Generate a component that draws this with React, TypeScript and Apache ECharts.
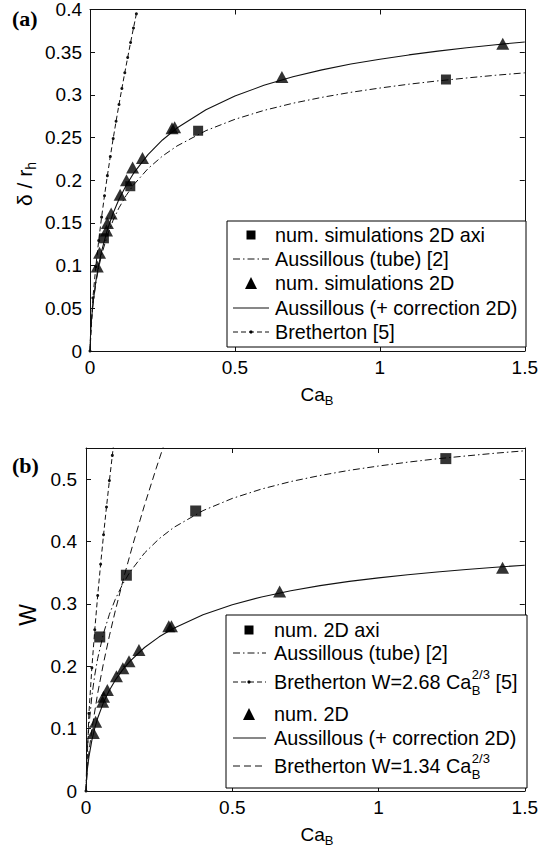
import React, { useEffect, useRef } from "react";
import * as echarts from "echarts";

// ---------- data ----------
// panel (a): delta / r_h versus Ca_B
const axiCaA = [0.048, 0.139, 0.373, 1.228];
const axiDeltaA = [0.132, 0.193, 0.258, 0.318];

const num2DCa = [0.025, 0.033, 0.057, 0.06, 0.073, 0.104, 0.126, 0.147, 0.181, 0.283, 0.292, 0.662, 1.424];
const num2DDeltaA = [0.099, 0.115, 0.141, 0.15, 0.161, 0.183, 0.2, 0.215, 0.226, 0.261, 0.262, 0.321, 0.36];

const curveCa = [0, 0.002, 0.005, 0.01, 0.02, 0.03, 0.04, 0.06, 0.08, 0.1, 0.125, 0.15, 0.2, 0.25, 0.3, 0.4, 0.5, 0.6, 0.7, 0.8, 0.9, 1.0, 1.1, 1.2, 1.3, 1.4, 1.5];
const tubeDelta = [0, 0.0202, 0.0357, 0.0538, 0.0792, 0.0977, 0.1126, 0.1357, 0.1534, 0.1677, 0.1823, 0.1944, 0.2136, 0.2283, 0.2401, 0.2581, 0.2714, 0.2818, 0.2902, 0.2971, 0.303, 0.308, 0.3125, 0.3164, 0.3198, 0.323, 0.3258];
const corr2DDelta = [0, 0.0203, 0.036, 0.0548, 0.0813, 0.101, 0.1171, 0.1422, 0.1617, 0.1777, 0.1942, 0.208, 0.2301, 0.2472, 0.2611, 0.2826, 0.2986, 0.3112, 0.3212, 0.3293, 0.3361, 0.3418, 0.3468, 0.3512, 0.3552, 0.3588, 0.362];

const brethCaA = [0, 0.01, 0.02, 0.03, 0.04, 0.05, 0.06, 0.07, 0.08, 0.09, 0.1, 0.11, 0.12, 0.13, 0.14, 0.15, 0.16];
const brethDeltaA = [0, 0.0622, 0.0987, 0.1293, 0.1568, 0.1819, 0.2054, 0.2277, 0.2488, 0.2691, 0.2887, 0.3075, 0.326, 0.3438, 0.3613, 0.3783, 0.3949];

// panel (b): W versus Ca_B
const axiCaB = [0.047, 0.138, 0.375, 1.23];
const axiWB = [0.247, 0.346, 0.449, 0.533];

const num2DWB = [0.093, 0.111, 0.143, 0.151, 0.162, 0.184, 0.197, 0.208, 0.226, 0.264, 0.264, 0.32, 0.358];

const tubeW = [0, 0.04, 0.0701, 0.1047, 0.1521, 0.1859, 0.2125, 0.253, 0.2833, 0.3073, 0.3314, 0.351, 0.3816, 0.4045, 0.4226, 0.4496, 0.4691, 0.4842, 0.4962, 0.5059, 0.5142, 0.5211, 0.5273, 0.5327, 0.5373, 0.5417, 0.5455];
const corr2DW = [0, 0.0203, 0.036, 0.0548, 0.0813, 0.101, 0.1171, 0.1422, 0.1617, 0.1777, 0.1942, 0.208, 0.2301, 0.2472, 0.2611, 0.2826, 0.2986, 0.3112, 0.3212, 0.3293, 0.3361, 0.3418, 0.3468, 0.3512, 0.3552, 0.3588, 0.362];

const breth268Ca = [0, 0.01, 0.02, 0.03, 0.04, 0.05, 0.06, 0.07, 0.08, 0.09, 0.095];
const breth268W = [0, 0.1244, 0.1975, 0.2586, 0.3136, 0.3637, 0.4108, 0.4553, 0.4977, 0.5381, 0.5583];

const breth134Ca = [0, 0.005, 0.01, 0.02, 0.04, 0.06, 0.08, 0.1, 0.13, 0.16, 0.2, 0.24, 0.27];
const breth134W = [0, 0.0391, 0.0622, 0.0987, 0.1568, 0.2054, 0.2488, 0.2887, 0.3438, 0.3949, 0.4583, 0.5175, 0.5599];

// legend labels
const legendA = ["num. simulations 2D axi", "Aussillous (tube) [2]", "num. simulations 2D", "Aussillous (+ correction 2D)", "Bretherton [5]"];
const legendB = ["num. 2D axi", "Aussillous (tube) [2]", "Bretherton W=2.68 Ca", "num. 2D", "Aussillous (+ correction 2D)", "Bretherton W=1.34 Ca"];

const FONT = '"Liberation Sans", Arial, Helvetica, sans-serif';
const SERIF = '"Liberation Serif", "Times New Roman", serif';
const INK = "#111";

function pairs(xs: number[], ys: number[]) {
  return xs.map((x, i) => [x, ys[i]]);
}

export default function App() {
  const ref = useRef<HTMLDivElement>(null);
  useEffect(() => {
    document.body.style.margin = "0";
    const chart = echarts.init(ref.current as HTMLDivElement, undefined, { renderer: "svg" });
    const ctx = document.createElement("canvas").getContext("2d") as CanvasRenderingContext2D;
    const tw = (s: string, size: number) => {
      ctx.font = `${size}px ${FONT}`;
      return ctx.measureText(s).width;
    };

    const LF = 19.8;
    const SF = 13;
    const txt = (x: number, y: number, s: string, size = LF, extra: any = {}) => ({
      type: "text",
      x,
      y,
      z: 60,
      style: {
        text: s,
        fontSize: size,
        fontFamily: FONT,
        fill: "#000",
        textAlign: "left",
        verticalAlign: "middle",
        textVerticalAlign: "middle",
        ...extra,
      },
    });
    const hline = (x1: number, x2: number, y: number, dash: any) => ({
      type: "line",
      z: 60,
      shape: { x1, y1: y, x2, y2: y },
      style: { stroke: INK, lineWidth: 1, lineDash: dash },
    });
    const sq = (cx: number, cy: number, s = 9) => ({
      type: "rect",
      z: 60,
      shape: { x: cx - s / 2, y: cy - s / 2, width: s, height: s },
      style: { fill: "#000" },
    });
    const tri = (cx: number, cy: number, s = 12) => ({
      type: "polygon",
      z: 60,
      shape: { points: [[cx, cy - s / 2], [cx + s / 2, cy + s / 2], [cx - s / 2, cy + s / 2]] },
      style: { fill: "#000" },
    });
    const dot = (cx: number, cy: number) => ({
      type: "circle",
      z: 61,
      shape: { cx, cy, r: 1.6 },
      style: { fill: "#000" },
    });
    const DASHDOT = [7, 3, 1.5, 3];
    const DASH = [5, 3];
    const DASH2 = [7, 4];

    // ---- legend (a)
    const gA: any[] = [];
    gA.push({ type: "rect", z: 59, shape: { x: 227, y: 221, width: 299, height: 126 }, style: { fill: "#fff", stroke: "#000", lineWidth: 1 } });
    const rowsA = [235, 259, 283, 308, 332];
    const tA = 275;
    gA.push(sq(251, rowsA[0]));
    gA.push(hline(233, 269, rowsA[1], DASHDOT));
    gA.push(tri(251, rowsA[2]));
    gA.push(hline(233, 269, rowsA[3], null));
    gA.push(hline(233, 269, rowsA[4], DASH));
    gA.push(dot(251, rowsA[4]));
    legendA.forEach((s, i) => gA.push(txt(tA, rowsA[i], s)));

    // ---- legend (b)
    const gB: any[] = [];
    gB.push({ type: "rect", z: 59, shape: { x: 226, y: 615, width: 301, height: 173 }, style: { fill: "#fff", stroke: "#000", lineWidth: 1 } });
    const rowsB = [630, 653, 682, 714, 738, 766];
    const tB = 274;
    gB.push(sq(249, rowsB[0]));
    gB.push(hline(233, 266, rowsB[1], DASHDOT));
    gB.push(hline(233, 266, rowsB[2], DASH));
    gB.push(dot(249, rowsB[2]));
    gB.push(tri(249, rowsB[3]));
    gB.push(hline(233, 266, rowsB[4], null));
    gB.push(hline(233, 266, rowsB[5], DASH2));
    legendB.forEach((s, i) => {
      gB.push(txt(tB, rowsB[i], s));
      if (i === 2 || i === 5) {
        const w = tw(s, LF) + 0.5;
        gB.push(txt(tB + w, rowsB[i] - 7.5, "2/3", SF, { lineHeight: 14 }));
        gB.push(txt(tB + w, rowsB[i] + 8, "B", SF, { lineHeight: 14 }));
        if (i === 2) gB.push(txt(tB + w + tw("2/3", SF), rowsB[i], " [5]"));
      }
    });

    // ---- axis titles
    const AF = 19;
    const caW = tw("Ca", AF) + tw("B", 13);
    const xTitle = (cx: number, cy: number) => [
      txt(cx - caW / 2, cy, "Ca", AF),
      txt(cx - caW / 2 + tw("Ca", AF), cy + 6, "B", 13),
    ];
    const yt = 21;
    const dW = tw("δ / r", yt) + tw("h", 14);
    const yTitleA = {
      type: "group",
      x: 24,
      y: 184,
      rotation: Math.PI / 2,
      z: 60,
      children: [
        txt(-dW / 2, 0, "δ / r", yt),
        txt(-dW / 2 + tw("δ / r", yt), 7, "h", 14),
      ],
    };
    const yTitleB = {
      type: "group",
      x: 28,
      y: 615,
      rotation: Math.PI / 2,
      z: 60,
      children: [txt(0, 0, "W", 23, { textAlign: "center" })],
    };

    const panelTag = (x: number, y: number, s: string) => ({
      type: "text",
      x,
      y,
      z: 60,
      style: { text: s, fontSize: 22, fontWeight: "bold", fontFamily: SERIF, fill: "#000", textAlign: "left", verticalAlign: "middle", textVerticalAlign: "middle" },
    });

    const axisCommon = {
      type: "value",
      axisLine: { show: true, onZero: false, lineStyle: { color: INK, width: 1 } },
      axisTick: { show: true, inside: true, length: 5, lineStyle: { color: INK } },
      splitLine: { show: false },
    };
    const labelStyle = { color: "#000", fontSize: 19, fontFamily: FONT };

    // axis indices: 0 = panel (a) bottom/left, 1 = panel (a) top/right,
    //               2 = panel (b) bottom/left, 3 = panel (b) top/right
    const xAxes = [
      { ...axisCommon, gridIndex: 0, min: 0, max: 1.5, interval: 0.5, position: "bottom", axisLabel: { ...labelStyle, margin: 7 } },
      { ...axisCommon, gridIndex: 0, min: 0, max: 1.5, interval: 0.5, position: "top", axisLabel: { show: false } },
      { ...axisCommon, gridIndex: 1, min: 0, max: 1.5, interval: 0.5, position: "bottom", axisLabel: { ...labelStyle, margin: 7 } },
      { ...axisCommon, gridIndex: 1, min: 0, max: 1.5, interval: 0.5, position: "top", axisLabel: { show: false } },
    ];
    const yAxes = [
      { ...axisCommon, gridIndex: 0, min: 0, max: 0.4, interval: 0.05, position: "left", axisLabel: { ...labelStyle, margin: 8 } },
      { ...axisCommon, gridIndex: 0, min: 0, max: 0.4, interval: 0.05, position: "right", axisLabel: { show: false } },
      {
        ...axisCommon, gridIndex: 1, min: 0, max: 0.55, interval: 0.1, position: "left",
        axisLabel: { ...labelStyle, margin: 9, formatter: (v: number) => (v > 0.52 ? "" : String(Math.round(v * 10) / 10)) },
      },
      { ...axisCommon, gridIndex: 1, min: 0, max: 0.55, interval: 0.1, position: "right", axisLabel: { show: false } },
    ];

    const A = 0;
    const B = 2;
    const curve = (name: string, ai: number, data: number[][], dash: any, width = 1) => ({
      type: "line",
      name,
      xAxisIndex: ai,
      yAxisIndex: ai,
      data,
      symbol: "none",
      smooth: false,
      clip: true,
      z: 2,
      lineStyle: { color: INK, width, type: dash || "solid" },
    });
    const dotted = (name: string, ai: number, data: number[][]) => ({
      type: "line",
      name,
      xAxisIndex: ai,
      yAxisIndex: ai,
      data,
      symbol: "circle",
      symbolSize: 3,
      showSymbol: true,
      clip: true,
      z: 3,
      itemStyle: { color: INK },
      lineStyle: { color: INK, width: 1, type: DASH },
    });
    const pts = (name: string, ai: number, data: number[][], shape: string, size: any) => ({
      type: "scatter",
      name,
      xAxisIndex: ai,
      yAxisIndex: ai,
      data,
      symbol: shape,
      symbolSize: size,
      z: 5,
      itemStyle: { color: "#000" },
    });

    const option: any = {
      animation: false,
      backgroundColor: "#fff",
      grid: [
        { left: 90, top: 9, width: 439, height: 342 },
        { left: 86, top: 448, width: 443, height: 343 },
      ],
      xAxis: xAxes,
      yAxis: yAxes,
      series: [
        curve("Aussillous (tube) [2]", A, pairs(curveCa, tubeDelta), DASHDOT),
        curve("Aussillous (+ correction 2D)", A, pairs(curveCa, corr2DDelta), null, 1.1),
        dotted("Bretherton [5]", A, pairs(brethCaA, brethDeltaA)),
        pts("num. simulations 2D axi", A, pairs(axiCaA, axiDeltaA), "rect", 10),
        pts("num. simulations 2D", A, pairs(num2DCa, num2DDeltaA), "triangle", [13, 12]),

        curve("Aussillous (tube) [2] (b)", B, pairs(curveCa, tubeW), DASHDOT),
        curve("Aussillous (+ correction 2D) (b)", B, pairs(curveCa, corr2DW), null, 1.1),
        dotted("Bretherton W=2.68", B, pairs(breth268Ca, breth268W)),
        curve("Bretherton W=1.34", B, pairs(breth134Ca, breth134W), DASH2),
        pts("num. 2D axi", B, pairs(axiCaB, axiWB), "rect", 11),
        pts("num. 2D", B, pairs(num2DCa, num2DWB), "triangle", [13, 12]),
      ],
      graphic: [
        ...gA,
        ...gB,
        ...xTitle(317, 394),
        ...xTitle(317, 834),
        yTitleA,
        yTitleB,
        panelTag(12, 18, "(a)"),
        panelTag(12, 465, "(b)"),
      ],
    };
    chart.setOption(option);
    return () => chart.dispose();
  }, []);
  return <div ref={ref} style={{ width: 541, height: 856, position: "absolute", left: 0, top: 0 }} />;
}
